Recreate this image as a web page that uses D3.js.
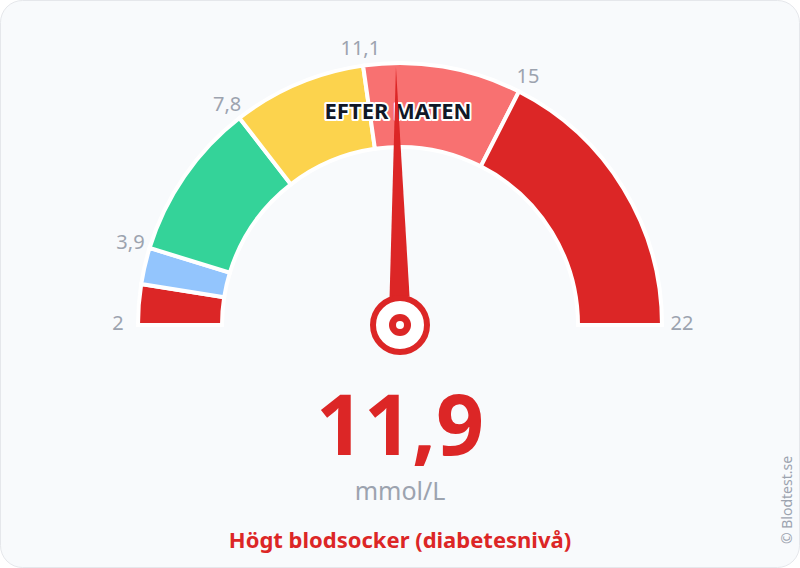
<!DOCTYPE html>
<html><head><meta charset="utf-8">
<script src="https://cdn.jsdelivr.net/npm/d3@7"></script>
<style>body{margin:0;background:#fff}svg{display:block;font-family:"Noto Sans",sans-serif}</style>
</head><body><svg id="c" width="800" height="568"></svg>
<script>
var bandStarts = [2, 3, 3.9, 7.8, 11.1, 15];
var bandEnds = [3, 3.9, 7.8, 11.1, 15, 22];
var bandColors = ["#dc2626", "#93c5fd", "#34d399", "#fcd34d", "#f87171", "#dc2626"];
var tickValues = [2, 3.9, 7.8, 11.1, 15, 22];
var reading = 11.9;
var title = "EFTER MATEN";
var unit = "mmol/L";
var status = "Högt blodsocker (diabetesnivå)";

var svg = d3.select("#c");
svg.append("rect").attr("x", 0.5).attr("y", 0.5).attr("width", 799).attr("height", 567)
  .attr("rx", 22).attr("fill", "#f8fafc").attr("stroke", "#e5e7eb");

var cx = 400, cy = 325, rOut = 262, rIn = 178;
var angle = d3.scaleLinear().domain([2, 22]).range([-Math.PI / 2, Math.PI / 2]);
var fmt = function(v) { return String(v).replace(".", ","); };

var g = svg.append("g").attr("transform", "translate(" + cx + "," + cy + ")");
var arc = d3.arc().innerRadius(rIn).outerRadius(rOut);
g.selectAll(".band").data(bandStarts).enter().append("path")
  .attr("d", function(d, i) { return arc({startAngle: angle(d), endAngle: angle(bandEnds[i])}); })
  .attr("fill", function(d, i) { return bandColors[i]; })
  .attr("stroke", "#fff").attr("stroke-width", 4).attr("stroke-linejoin", "miter");

g.selectAll(".tick").data(tickValues).enter().append("text")
  .attr("x", function(d) { return 282 * Math.sin(angle(d)); })
  .attr("y", function(d) { return -278 * Math.cos(angle(d)); })
  .attr("text-anchor", "middle").attr("dominant-baseline", "middle")
  .attr("font-size", 20).attr("fill", "#9ca3af").text(fmt);

g.append("text").attr("x", -2).attr("y", -212).attr("text-anchor", "middle")
  .attr("dominant-baseline", "middle").attr("font-size", 22).attr("font-weight", "bold")
  .attr("fill", "#111827").attr("stroke", "#fff").attr("stroke-width", 4)
  .attr("paint-order", "stroke").attr("stroke-linejoin", "round").text(title);

var a = angle(reading) * 180 / Math.PI;
g.append("path").attr("transform", "rotate(" + a + ")")
  .attr("d", "M-10,-28 L0,-258 L10,-28 Z").attr("fill", "#dc2626");
g.append("circle").attr("r", 27).attr("fill", "#fff").attr("stroke", "#dc2626").attr("stroke-width", 6);
g.append("circle").attr("r", 11).attr("fill", "#dc2626");
g.append("circle").attr("r", 4).attr("fill", "#fff");

svg.append("text").attr("x", 400).attr("y", 455).attr("text-anchor", "middle")
  .attr("font-size", 84).attr("font-weight", "bold").attr("fill", "#dc2626").text(fmt(reading));
svg.append("text").attr("x", 400).attr("y", 500).attr("text-anchor", "middle")
  .attr("font-size", 25).attr("fill", "#9ca3af").text(unit);
svg.append("text").attr("x", 400).attr("y", 548).attr("text-anchor", "middle")
  .attr("font-size", 22).attr("font-weight", "bold").attr("fill", "#dc2626").text(status);
svg.append("text").attr("transform", "translate(792,500) rotate(-90)").attr("text-anchor", "middle")
  .attr("font-size", 14).attr("fill", "#9ca3af").text("© Blodtest.se");
</script></body></html>
